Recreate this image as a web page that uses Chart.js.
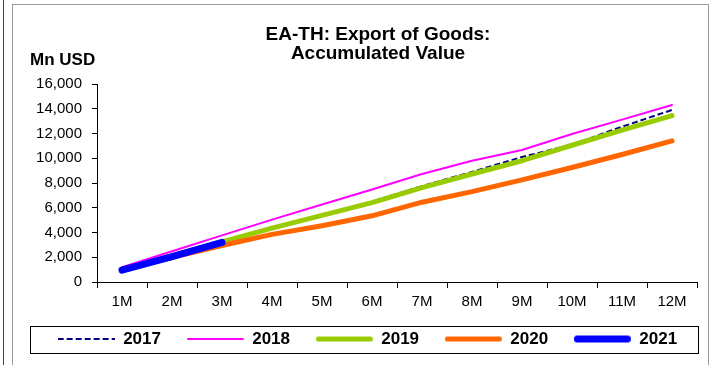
<!DOCTYPE html>
<html>
<head>
<meta charset="utf-8">
<title>EA-TH: Export of Goods</title>
<script src="https://cdn.jsdelivr.net/npm/chart.js@4.4.1/dist/chart.umd.min.js"></script>
<style>
  html, body { margin: 0; padding: 0; background: #fff; }
  body { width: 712px; height: 365px; position: relative; overflow: hidden;
         font-family: "Liberation Sans", Arial, sans-serif; }
  #wrap { position: absolute; left: 0; top: 0; width: 712px; height: 365px; }
  .edge { position: absolute; left: 3px; top: 0; width: 1px; height: 365px; background: #444; }
  .frame { position: absolute; left: 12px; top: 4px; width: 695px; height: 400px;
           border: 1px solid #999; }
  .title { position: absolute; left: 178px; width: 400px; top: 24px; text-align: center;
           font-weight: bold; font-size: 19px; line-height: 19px; color: #000; white-space: nowrap; }
  .unit { position: absolute; left: 30px; top: 50px; font-weight: bold; font-size: 17px; color: #000; }
  .legend-box { position: absolute; left: 30px; top: 326px; width: 667px; height: 26px;
                border: 1px solid #000; }
</style>
</head>
<body>
<div class="edge"></div>
<div class="frame"></div>
<div class="legend-box"></div>
<div id="wrap"><canvas id="exportChart" width="712" height="365"></canvas></div>
<div class="title">EA-TH: Export of Goods:<br>Accumulated Value</div>
<div class="unit">Mn USD</div>
<script>
// 月份与各年度累计出口值 (百万美元)
var months = ['1M', '2M', '3M', '4M', '5M', '6M', '7M', '8M', '9M', '10M', '11M', '12M'];
var years = ['2017', '2018', '2019', '2020', '2021'];
var v2017 = [950, 1850, 3150, 4400, 5400, 6500, 7750, 8900, 10100, 11100, 12550, 13900];
var v2018 = [1190, 2480, 3770, 5040, 6260, 7480, 8730, 9800, 10670, 11960, 13120, 14300];
var v2019 = [1000, 2100, 3250, 4360, 5390, 6410, 7620, 8730, 9800, 11050, 12280, 13440];
var v2020 = [1000, 2000, 2950, 3850, 4550, 5350, 6450, 7300, 8250, 9250, 10300, 11400];
var v2021 = [950, 2050, 3200];
var yTicks = [0, 2000, 4000, 6000, 8000, 10000, 12000, 14000, 16000];

var FONT = "'Liberation Sans', Arial, sans-serif";
var LEGEND_LINE = 57;

function line(label, data, color, width, dash, cap, order) {
    return {
        label: label,
        data: data,
        borderColor: color,
        backgroundColor: color,
        borderWidth: width,
        borderDash: dash,
        borderCapStyle: cap,
        borderJoinStyle: 'round',
        pointRadius: 0,
        tension: 0,
        fill: false,
        order: order
    };
}

// 图例里的线段样本 (带虚线), 画在小画布上
function legendSample(ds) {
    var c = document.createElement('canvas');
    var w = ds.borderWidth;
    c.width = LEGEND_LINE;
    c.height = Math.ceil(w) + 2;
    var g = c.getContext('2d');
    g.strokeStyle = ds.borderColor;
    g.lineWidth = w;
    g.lineCap = ds.borderCapStyle;
    g.setLineDash(ds.borderDash || []);
    var inset = ds.borderCapStyle === 'round' ? w / 2 : 0;
    g.beginPath();
    g.moveTo(inset, c.height / 2);
    g.lineTo(LEGEND_LINE - inset, c.height / 2);
    g.stroke();
    return c;
}

var ctx = document.getElementById('exportChart').getContext('2d');
var exportChart = new Chart(ctx, {
    type: 'line',
    data: {
        labels: months,
        datasets: [
            line(years[0], v2017, '#000080', 2, [6, 3], 'butt', 4),
            line(years[1], v2018, '#ff00ff', 2, [], 'round', 0),
            line(years[2], v2019, '#99cc00', 5, [], 'round', 3),
            line(years[3], v2020, '#ff6600', 5, [], 'round', 2),
            line(years[4], v2021, '#0000ff', 7, [], 'round', -1)
        ]
    },
    options: {
        responsive: false,
        devicePixelRatio: 1,
        animation: false,
        layout: { padding: { left: 27.5, right: 0, top: 84, bottom: 7.5 } },
        plugins: {
            title: { display: false },
            tooltip: { enabled: false },
            legend: {
                position: 'bottom',
                align: 'center',
                labels: {
                    usePointStyle: true,
                    pointStyleWidth: LEGEND_LINE,
                    padding: 21,
                    color: '#000',
                    font: { family: FONT, size: 17, weight: 'bold' },
                    sort: function(a, b) { return a.datasetIndex - b.datasetIndex; },
                    // 图例文字后留一个空格, 拉开各项间距
                    generateLabels: function(chart) {
                        var items = Chart.defaults.plugins.legend.labels.generateLabels(chart);
                        items.forEach(function(it) {
                            it.pointStyle = legendSample(chart.data.datasets[it.datasetIndex]);
                            it.text = it.text + ' ';
                        });
                        return items;
                    }
                }
            }
        },
        scales: {
            x: {
                offset: true,
                grid: { offset: true, drawOnChartArea: false, tickLength: 6, color: '#000' },
                border: { color: '#000', width: 1 },
                ticks: { padding: 5, color: '#000', font: { family: FONT, size: 15 }, maxRotation: 0, autoSkip: false },
                afterFit: function(scale) { scale.height = 27.5; }
            },
            y: {
                min: 0,
                max: 16000,
                afterBuildTicks: function(scale) {
                    scale.ticks = yTicks.map(function(v) { return { value: v }; });
                },
                grid: { drawOnChartArea: false, tickLength: 5, color: '#000' },
                border: { color: '#000', width: 1 },
                ticks: {
                    autoSkip: false,
                    padding: 10,
                    color: '#000',
                    font: { family: FONT, size: 15 },
                    callback: function(v) { return v.toLocaleString('en-US'); }
                },
                afterFit: function(scale) { scale.width = 69.5; }
            },
            // 右侧留白用的空轴
            yPad: {
                position: 'right',
                grid: { display: false },
                border: { display: false },
                ticks: { display: false },
                afterFit: function(scale) { scale.width = 15; }
            }
        }
    }
});
</script>
</body>
</html>
